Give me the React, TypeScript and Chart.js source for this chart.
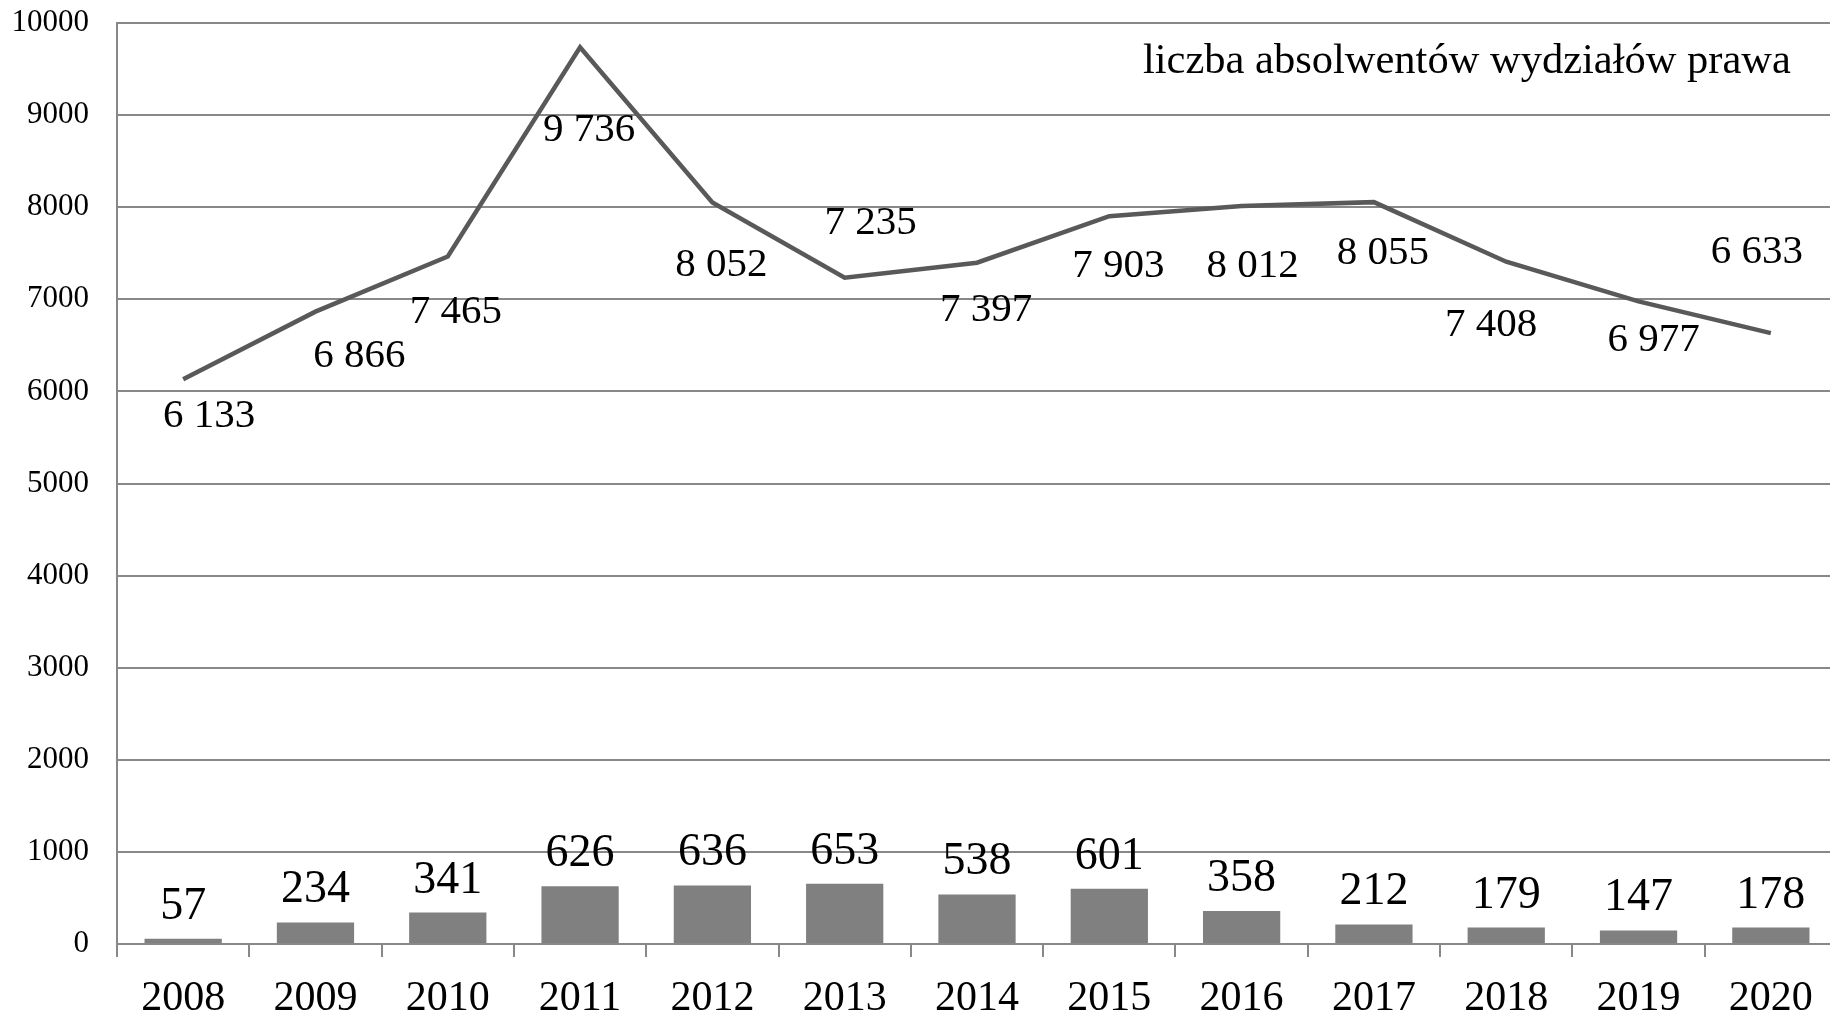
import React, { useEffect, useRef } from "react";
import { Chart, registerables } from "chart.js";

Chart.register(...registerables);

const years = ["2008", "2009", "2010", "2011", "2012", "2013", "2014", "2015", "2016", "2017", "2018", "2019", "2020"];
const graduates = [6133, 6866, 7465, 9736, 8052, 7235, 7397, 7903, 8012, 8055, 7408, 6977, 6633];
const barValues = [57, 234, 341, 626, 636, 653, 538, 601, 358, 212, 179, 147, 178];
const yTicks = [0, 1000, 2000, 3000, 4000, 5000, 6000, 7000, 8000, 9000, 10000];
const legendLabel = "liczba absolwentów wydziałów prawa";

// label placement (dx, dy in px relative to the point) – styling config, not data
const lineLabelOffsets: [number, number][] = [
  [26, 34], [44, 41], [8, 53], [9, 80], [9, 60], [26, -58], [9, 44],
  [9, 47], [11, 57], [9, 48], [-15, 60], [15, 36], [-14, -84],
];

const FONT = "'Liberation Serif', 'Times New Roman', serif";

function fmt(v: number): string {
  if (v < 1000) return String(v);
  return `${Math.floor(v / 1000)} ${String(v % 1000).padStart(3, "0")}`;
}

const labelsPlugin = {
  id: "customLabels",
  afterDatasetsDraw(chart: any) {
    const ctx = chart.ctx;
    ctx.save();
    ctx.fillStyle = "#000";
    ctx.textAlign = "center";
    ctx.textBaseline = "alphabetic";
    // bar labels
    const barMeta = chart.getDatasetMeta(0);
    ctx.font = `46px ${FONT}`;
    barMeta.data.forEach((el: any, i: number) => {
      ctx.fillText(String(barValues[i]), el.x, el.y - 20);
    });
    // line labels
    const lineMeta = chart.getDatasetMeta(1);
    ctx.font = `41px ${FONT}`;
    lineMeta.data.forEach((el: any, i: number) => {
      const [dx, dy] = lineLabelOffsets[i];
      ctx.fillText(fmt(graduates[i]), el.x + dx, el.y + dy + 0.34 * 41);
    });
    // legend text
    ctx.textAlign = "left";
    ctx.font = `42.5px ${FONT}`;
    ctx.fillText(legendLabel, 1143, 73);
    ctx.restore();
  },
};

export default function App() {
  const canvasRef = useRef<HTMLCanvasElement | null>(null);

  useEffect(() => {
    if (!canvasRef.current) return;
    Chart.defaults.font.family = FONT;
    const chart = new Chart(canvasRef.current, {
      type: "bar",
      data: {
        labels: years,
        datasets: [
          {
            type: "bar",
            label: "bars",
            data: barValues,
            backgroundColor: "#808080",
            borderWidth: 0,
            barPercentage: 0.584,
            categoryPercentage: 1,
          },
          {
            type: "line",
            label: legendLabel,
            data: graduates,
            borderColor: "#595959",
            borderWidth: 4.5,
            pointRadius: 0,
            tension: 0,
            fill: false,
          } as any,
        ],
      },
      options: {
        responsive: false,
        animation: false,
        devicePixelRatio: 1,
        layout: { padding: { top: 23, left: 0, right: 0, bottom: 0 } },
        plugins: {
          legend: { display: false },
          tooltip: { enabled: false },
        },
        scales: {
          x: {
            offset: true,
            grid: {
              display: true,
              offset: true,
              drawOnChartArea: false,
              drawTicks: true,
              tickLength: 13,
              color: "#888888",
              lineWidth: 2,
            },
            border: { display: true, color: "#888888", width: 2 },
            ticks: {
              color: "#000",
              font: { size: 42, family: FONT },
              padding: 17,
              maxRotation: 0,
              autoSkip: false,
            },
            afterFit(scale: any) {
              scale.height = 67;
              scale.paddingLeft = 0;
              scale.paddingRight = 0;
            },
          },
          y: {
            min: 0,
            max: 10000,
            afterBuildTicks(scale: any) {
              scale.ticks = yTicks.map((v) => ({ value: v }));
            },
            grid: {
              display: true,
              drawTicks: false,
              color: "#888888",
              lineWidth: 2,
            },
            border: { display: true, color: "#888888", width: 2 },
            ticks: {
              color: "#000",
              font: { size: 31, family: FONT },
              padding: 28,
              callback: (v: any) => String(v),
            },
            afterFit(scale: any) {
              scale.width = 117;
              scale.paddingTop = 0;
              scale.paddingBottom = 0;
            },
          },
        },
      },
      plugins: [labelsPlugin],
    });
    return () => chart.destroy();
  }, []);

  return (
    <div style={{ position: "fixed", left: 0, top: 0, width: "100vw", height: "100vh", overflow: "hidden", background: "#fff" }}>
      <canvas ref={canvasRef} width={1837} height={1011} style={{ display: "block", width: 1837, height: 1011 }} />
    </div>
  );
}
